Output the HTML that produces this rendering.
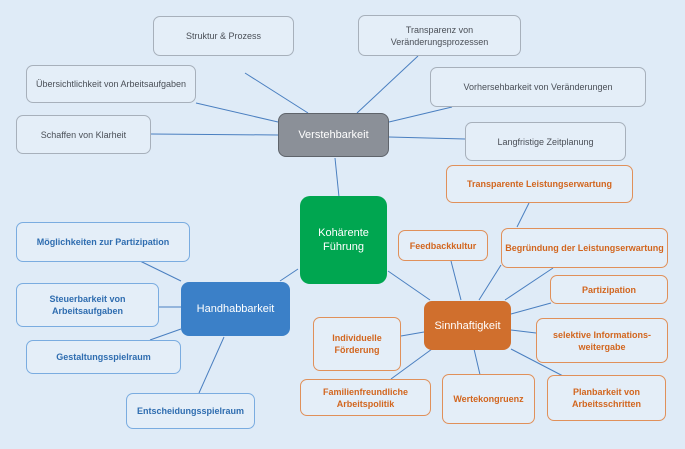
<!DOCTYPE html>
<html><head><meta charset="utf-8"><style>
body{margin:0;width:685px;height:449px;background:#dfebf7;position:relative;overflow:hidden;font-family:"Liberation Sans",sans-serif}
.b{position:absolute;box-sizing:border-box;display:flex;align-items:center;justify-content:center;text-align:center;font-size:9px;line-height:12px;border-radius:7px;background:#e4eef8}
.g{border:1px solid #a7b0bb;color:#4a4f57}
.o{border:1px solid #e0905a;color:#d2661f;font-weight:bold}
.u{border:1px solid #7aace0;color:#2f6db0;font-weight:bold}
.m{color:#fff;font-size:11px;line-height:14px;border-radius:8px}
svg{position:absolute;left:0;top:0}
</style></head><body>
<svg width="685" height="449"><g stroke="#4a7fc0" stroke-width="1">
<line x1="245" y1="73" x2="308" y2="113"/><line x1="418" y1="56" x2="357" y2="113"/>
<line x1="196" y1="103" x2="278" y2="122"/><line x1="151" y1="134" x2="278" y2="135"/>
<line x1="452" y1="107" x2="389" y2="122"/><line x1="465" y1="139" x2="389" y2="137"/>
<line x1="335" y1="158" x2="339" y2="197"/>
<line x1="298" y1="269" x2="280" y2="281"/><line x1="388" y1="271" x2="430" y2="300"/>
<line x1="140" y1="261" x2="181" y2="281"/><line x1="159" y1="307" x2="181" y2="307"/>
<line x1="150" y1="340" x2="181" y2="329"/><line x1="199" y1="393" x2="224" y2="337"/>
<line x1="529" y1="203" x2="517" y2="227"/><line x1="501" y1="265" x2="479" y2="300"/>
<line x1="451" y1="261" x2="461" y2="300"/><line x1="553" y1="268" x2="505" y2="300"/>
<line x1="551" y1="303" x2="511" y2="314"/><line x1="536" y1="333" x2="511" y2="330"/>
<line x1="563" y1="376" x2="511" y2="349"/><line x1="481" y1="379" x2="474" y2="349"/>
<line x1="391" y1="379" x2="432" y2="349"/><line x1="401" y1="336" x2="424" y2="332"/>
</g></svg>
<div class="b g" style="left:153px;top:16px;width:141px;height:40px">Struktur &amp; Prozess</div>
<div class="b g" style="left:358px;top:15px;width:163px;height:41px">Transparenz von<br>Veränderungsprozessen</div>
<div class="b g" style="left:26px;top:65px;width:170px;height:38px">Übersichtlichkeit von Arbeitsaufgaben</div>
<div class="b g" style="left:430px;top:67px;width:216px;height:40px">Vorhersehbarkeit von Veränderungen</div>
<div class="b g" style="left:16px;top:115px;width:135px;height:39px">Schaffen von Klarheit</div>
<div class="b g" style="left:465px;top:122px;width:161px;height:39px">Langfristige Zeitplanung</div>
<div class="b m" style="left:278px;top:113px;width:111px;height:44px;background:#8b9098;border:1px solid #5f646b">Verstehbarkeit</div>
<div class="b m" style="left:300px;top:196px;width:87px;height:88px;background:#00a650;border-radius:10px">Kohärente<br>Führung</div>
<div class="b m" style="left:181px;top:282px;width:109px;height:54px;background:#3b80c8">Handhabbarkeit</div>
<div class="b m" style="left:424px;top:301px;width:87px;height:49px;background:#d06f2d">Sinnhaftigkeit</div>
<div class="b o" style="left:446px;top:165px;width:187px;height:38px">Transparente Leistungserwartung</div>
<div class="b o" style="left:398px;top:230px;width:90px;height:31px">Feedbackkultur</div>
<div class="b o" style="left:501px;top:228px;width:167px;height:40px">Begründung der Leistungserwartung</div>
<div class="b o" style="left:550px;top:275px;width:118px;height:29px">Partizipation</div>
<div class="b o" style="left:313px;top:317px;width:88px;height:54px">Individuelle<br>Förderung</div>
<div class="b o" style="left:536px;top:318px;width:132px;height:45px">selektive Informations-<br>weitergabe</div>
<div class="b o" style="left:300px;top:379px;width:131px;height:37px">Familienfreundliche<br>Arbeitspolitik</div>
<div class="b o" style="left:442px;top:374px;width:93px;height:50px">Wertekongruenz</div>
<div class="b o" style="left:547px;top:375px;width:119px;height:46px">Planbarkeit von<br>Arbeitsschritten</div>
<div class="b u" style="left:16px;top:222px;width:174px;height:40px">Möglichkeiten zur Partizipation</div>
<div class="b u" style="left:16px;top:283px;width:143px;height:44px">Steuerbarkeit von<br>Arbeitsaufgaben</div>
<div class="b u" style="left:26px;top:340px;width:155px;height:34px">Gestaltungsspielraum</div>
<div class="b u" style="left:126px;top:393px;width:129px;height:36px">Entscheidungsspielraum</div>
</body></html>
